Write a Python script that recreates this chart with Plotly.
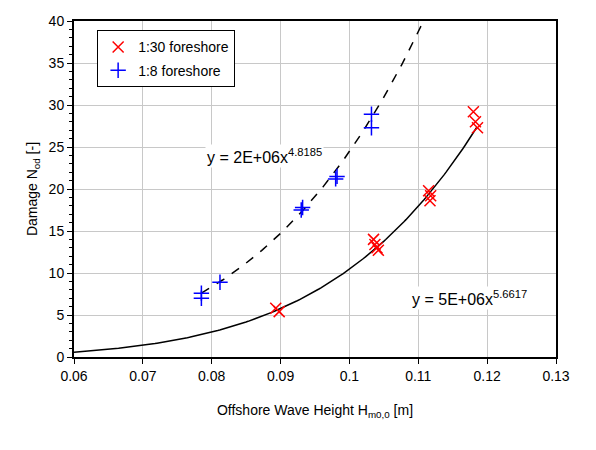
import numpy as np
import plotly.graph_objects as go

# --- data ---
x_30 = [0.0893, 0.0898, 0.1035, 0.1037, 0.1040, 0.1042, 0.1115, 0.1118, 0.1117, 0.1180, 0.1183, 0.1186]
y_30 = [5.8, 5.4, 14.0, 13.4, 13.0, 12.7, 19.8, 19.2, 18.6, 29.2, 28.0, 27.3]

x_8 = [0.0785, 0.0785, 0.0812, 0.0930, 0.0932, 0.0980, 0.0982, 0.1032, 0.1032]
y_8 = [7.6, 7.0, 8.9, 17.5, 17.8, 21.2, 21.5, 28.9, 27.3]

# trendline parameters (power law y = a * x^b), exponent from the labels
trend_8_coef = 1.61e6
trend_8_exp = 4.8185
trend_8_range = [0.0785, 0.1107]
trend_30_coef = 4.8e6
trend_30_exp = 5.6617
trend_30_range = [0.06, 0.1185]

label_8 = "y = 2E+06x<sup>4.8185</sup>"
label_30 = "y = 5E+06x<sup>5.6617</sup>"

x_ticks = [0.06, 0.07, 0.08, 0.09, 0.1, 0.11, 0.12, 0.13]
x_ticktext = ["0.06", "0.07", "0.08", "0.09", "0.1", "0.11", "0.12", "0.13"]
y_ticks = [0, 5, 10, 15, 20, 25, 30, 35, 40]

FONT = "Liberation Sans, Arial, sans-serif"

fig = go.Figure()

xt8 = np.linspace(trend_8_range[0], trend_8_range[1], 200)
fig.add_trace(go.Scatter(x=xt8, y=trend_8_coef * xt8 ** trend_8_exp, mode="lines",
                         line=dict(color="black", width=1.5, dash="dash"),
                         showlegend=False, hoverinfo="skip"))
xt30 = np.linspace(trend_30_range[0], trend_30_range[1], 200)
fig.add_trace(go.Scatter(x=xt30, y=trend_30_coef * xt30 ** trend_30_exp, mode="lines",
                         line=dict(color="black", width=1.5),
                         showlegend=False, hoverinfo="skip"))

fig.add_trace(go.Scatter(x=x_30, y=y_30, mode="markers", name="1:30 foreshore",
                         legendgroup="a",
                         marker=dict(symbol="x-thin", size=11, color="red",
                                     line=dict(color="red", width=1.5))))
fig.add_trace(go.Scatter(x=x_8, y=y_8, mode="markers", name="1:8 foreshore",
                         legendgroup="b",
                         marker=dict(symbol="cross-thin", size=11, color="blue",
                                     line=dict(color="blue", width=1.5))))

fig.add_annotation(x=0.0877, y=23.9, text=label_8, showarrow=False,
                   bgcolor="white", font=dict(size=16, color="black", family=FONT))
fig.add_annotation(x=0.1174, y=7.0, text=label_30, showarrow=False,
                   bgcolor="white", font=dict(size=16, color="black", family=FONT))

fig.update_layout(
    width=596, height=450,
    margin=dict(l=66, r=48, t=5, b=101),
    paper_bgcolor="white", plot_bgcolor="white",
    font=dict(family=FONT, size=14, color="black"),
    legend=dict(x=0.048, y=0.972, xanchor="left", yanchor="top",
                bgcolor="white", bordercolor="black", borderwidth=1,
                font=dict(size=14), itemwidth=30,
                traceorder="grouped", tracegroupgap=2),
)
fig.update_xaxes(range=[0.06, 0.13], tickvals=x_ticks, ticktext=x_ticktext,
                 showgrid=True, gridcolor="#c8c8c8", gridwidth=1,
                 showline=True, linecolor="black", linewidth=2, mirror=True,
                 ticks="outside", ticklen=5, tickcolor="black",
                 zeroline=False, ticklabeloverflow="allow",
                 title=dict(text="Offshore Wave Height H<sub>m0,0</sub> [m]", standoff=22,
                            font=dict(size=14)))
fig.update_yaxes(range=[0, 40], tickvals=y_ticks,
                 showgrid=True, gridcolor="#c8c8c8", gridwidth=1,
                 showline=True, linecolor="black", linewidth=2, mirror=True,
                 ticks="outside", ticklen=5, tickcolor="black",
                 minor=dict(dtick=1, ticks="outside", ticklen=3, tickcolor="black", showgrid=False),
                 zeroline=False, ticklabeloverflow="allow",
                 title=dict(text="Damage N<sub>od</sub> [-]", standoff=8, font=dict(size=14)))

fig.write_html("out.html")
